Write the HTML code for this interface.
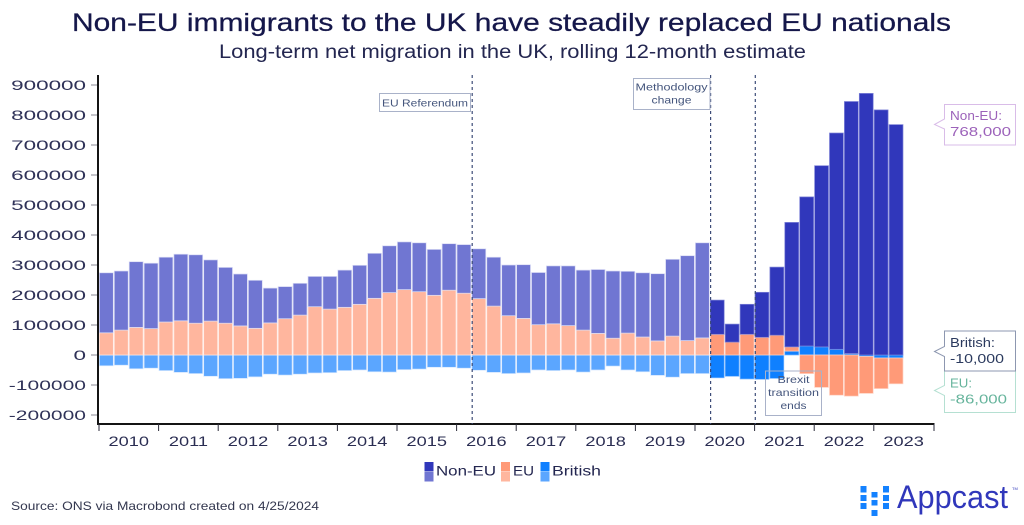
<!DOCTYPE html>
<html>
<head>
<meta charset="utf-8">
<style>
html,body{margin:0;padding:0;background:#fff;width:1024px;height:525px;overflow:hidden}
svg{display:block}
text{font-family:"Liberation Sans",sans-serif}
</style>
</head>
<body>
<svg id="chart" width="1024" height="525" viewBox="0 0 1024 525" xmlns="http://www.w3.org/2000/svg">
<text x="72" y="31" font-size="25" fill="#15174a" stroke="#15174a" stroke-width="0.25" textLength="879" lengthAdjust="spacingAndGlyphs">Non-EU immigrants to the UK have steadily replaced EU nationals</text>
<text x="219" y="58" font-size="19" fill="#232650" textLength="587" lengthAdjust="spacingAndGlyphs">Long-term net migration in the UK, rolling 12-month estimate</text>
<g id="marks"></g>
<g id="yaxis"></g>
<g id="xaxis"></g>
<g id="events"></g>

<g>
<rect x="379.5" y="93.5" width="91" height="18" fill="none" stroke="#a9b2c9" stroke-width="1"/>
<text x="382" y="106.5" font-size="10.5" fill="#44557c" textLength="86" lengthAdjust="spacingAndGlyphs">EU Referendum</text>
</g>
<g>
<rect x="633.5" y="78.5" width="76.5" height="31" fill="none" stroke="#a9b2c9" stroke-width="1"/>
<text x="671.5" y="90.5" font-size="10.5" fill="#44557c" text-anchor="middle" textLength="72" lengthAdjust="spacingAndGlyphs">Methodology</text>
<text x="671.5" y="103.5" font-size="10.5" fill="#44557c" text-anchor="middle" textLength="40" lengthAdjust="spacingAndGlyphs">change</text>
</g>
<g>
<rect x="765.5" y="371" width="56" height="44.5" fill="none" stroke="#a9b2c9" stroke-width="1"/>
<text x="793.5" y="383" font-size="10.5" fill="#44557c" text-anchor="middle" textLength="32" lengthAdjust="spacingAndGlyphs">Brexit</text>
<text x="793.5" y="396" font-size="10.5" fill="#44557c" text-anchor="middle" textLength="51" lengthAdjust="spacingAndGlyphs">transition</text>
<text x="793.5" y="409" font-size="10.5" fill="#44557c" text-anchor="middle" textLength="26" lengthAdjust="spacingAndGlyphs">ends</text>
</g>

<g>
<path d="M944.5 104.5H1015.5V145H944.5V129L934.5 124.5L944.5 119Z" fill="#fff" stroke="#d9bce8" stroke-width="1"/>
<text x="950" y="120" font-size="13" fill="#9c62ba" textLength="52" lengthAdjust="spacingAndGlyphs">Non-EU:</text>
<text x="950" y="136" font-size="13" fill="#9c62ba" textLength="61" lengthAdjust="spacingAndGlyphs">768,000</text>
</g>
<g>
<path d="M944.5 371H1015.5V412.5H944.5V395.5L934.5 390.5L944.5 385.5Z" fill="#fff" stroke="#b5e0d2" stroke-width="1"/>
<text x="950" y="387.5" font-size="13" fill="#66b49c" textLength="22" lengthAdjust="spacingAndGlyphs">EU:</text>
<text x="950" y="403.5" font-size="13" fill="#66b49c" textLength="57" lengthAdjust="spacingAndGlyphs">-86,000</text>
</g>
<g>
<path d="M944.5 331H1015.5V371H944.5V356.5L934.5 351.5L944.5 346.5Z" fill="#fff" stroke="#8d97b0" stroke-width="1"/>
<text x="950" y="347" font-size="13" fill="#2b3a5e" textLength="45" lengthAdjust="spacingAndGlyphs">British:</text>
<text x="950" y="363" font-size="13" fill="#2b3a5e" textLength="54" lengthAdjust="spacingAndGlyphs">-10,000</text>
</g>

<g>
<g>
<rect x="424.5" y="462" width="9" height="9.5" fill="#3037bb"/><rect x="424.5" y="472" width="9" height="9.5" fill="#7076d2"/>
<text x="436" y="475.5" font-size="14" fill="#232650" textLength="60" lengthAdjust="spacingAndGlyphs">Non-EU</text>
</g>
<g>
<rect x="501" y="462" width="9" height="9.5" fill="#ff9a78"/><rect x="501" y="472" width="9" height="9.5" fill="#ffb69e"/>
<text x="513" y="475.5" font-size="14" fill="#232650" textLength="21" lengthAdjust="spacingAndGlyphs">EU</text>
</g>
<g>
<rect x="540.5" y="462" width="9" height="9.5" fill="#0f80ff"/><rect x="540.5" y="472" width="9" height="9.5" fill="#5ba6ff"/>
<text x="552" y="475.5" font-size="14" fill="#232650" textLength="49" lengthAdjust="spacingAndGlyphs">British</text>
</g>
</g>

<text x="11" y="510" font-size="12" fill="#33374f" textLength="308" lengthAdjust="spacingAndGlyphs">Source: ONS via Macrobond created on 4/25/2024</text>

<g fill="#1482ff">
<rect x="860.5" y="486" width="6" height="6.5"/><rect x="860.5" y="495" width="6" height="6"/><rect x="860.5" y="503" width="6" height="6"/>
<rect x="871.5" y="492" width="6" height="5.5"/><rect x="871.5" y="500" width="6" height="5.5"/><rect x="871.5" y="510" width="6" height="6"/>
<rect x="883" y="486" width="6" height="6.5"/><rect x="883" y="495" width="6" height="6"/><rect x="883" y="503" width="6" height="6"/>
<text x="897" y="508" font-size="32" fill="#3037bb" textLength="111" lengthAdjust="spacingAndGlyphs">Appcast</text>
<text x="1012" y="490" font-size="4" fill="#3037bb">TM</text>
</g>
</svg>

<script>
// Values in thousands of people, one entry per quarter from 2010 Q1 to 2023 Q2
const nonEU = [200,197,219,218,216,222,228,204,186,173,160,116,107,106,101,109,124,130,150,156,159,163,153,155,162,166,163,169,179,174,193,199,200,213,224,206,214,224,256,283,317,114,60,100,150,227,415,497,604,721,840,872,817,768];
const eu = [74,83,92,88,110,114,106,113,106,97,89,107,121,133,161,153,159,169,189,208,218,211,199,216,206,188,163,131,122,101,104,98,83,72,56,73,60,47,63,48,57,69,43,69,59,66,14,-62,-108,-134,-137,-123,-102,-86];
const british = [-36,-34,-46,-44,-52,-58,-62,-71,-79,-78,-73,-64,-67,-64,-60,-59,-52,-50,-56,-57,-49,-47,-41,-41,-44,-51,-58,-62,-60,-50,-52,-50,-57,-50,-37,-50,-56,-68,-74,-62,-62,-76,-71,-80,-81,-78,13,30,27,19,5,-5,-10,-10];
const yTicks = [900000,800000,700000,600000,500000,400000,300000,200000,100000,0,-100000,-200000];
const years = ["2010","2011","2012","2013","2014","2015","2016","2017","2018","2019","2020","2021","2022","2023"];
const methodologyChangeIndex = 41;
const eventQuarters = [25, 41, 44];

const NS = 'http://www.w3.org/2000/svg';
const x0 = 99, step = 14.9;
function xScale(q){ return x0 + q * step; }
function yScale(k){ return 355 - k * 0.3; }

function make(tag, attrs, parent){
  const el = document.createElementNS(NS, tag);
  for (const k in attrs) el.setAttribute(k, attrs[k]);
  parent.appendChild(el);
  return el;
}

const marks = document.getElementById('marks');
const series = [
  {key:'british', vals:british, light:'#5ba6ff', dark:'#0f80ff', sl:'#d5e7ff', sd:'#7cb8ff'},
  {key:'eu', vals:eu, light:'#ffb69e', dark:'#ff9a78', sl:'#ffeae3', sd:'#ffd4c5'},
  {key:'non-eu', vals:nonEU, light:'#7076d2', dark:'#3037bb', sl:'#dadcf5', sd:'#7f84d8'}
];
for (let i = 0; i < nonEU.length; i++) {
  let pos = 0, neg = 0;
  series.forEach(function(s){
    const v = s.vals[i];
    let top, bottom;
    if (v >= 0) { top = pos + v; bottom = pos; pos = top; }
    else { top = neg; bottom = neg + v; neg = bottom; }
    const dark = i >= methodologyChangeIndex;
    const r = make('rect', {
      x: xScale(i) + 0.4,
      y: yScale(top),
      width: step - 1,
      height: Math.max(0.1, yScale(bottom) - yScale(top)),
      fill: dark ? s.dark : s.light,
      stroke: dark ? s.sd : s.sl,
      'stroke-width': 0.7
    }, marks);
    
    
  });
}

const yaxis = document.getElementById('yaxis');
const yLine = make('line', {x1:98, x2:98, y1:75, y2:425, stroke:'#141414', 'stroke-width':2}, yaxis);


yTicks.forEach(function(t){
  const y = yScale(t / 1000);
  const tick = make('line', {x1:91, x2:97, y1:y, y2:y, stroke:'#8a8a94', 'stroke-width':1}, yaxis);
  
  
  const label = make('text', {x:86, y:y + 5, 'font-size':14, fill:'#2f3258', 'text-anchor':'end'}, yaxis);
  label.textContent = String(t);
  
  
  label.setAttribute('textLength', (label.getComputedTextLength() * 1.6 - (t < 0 ? 5 : 0)).toFixed(1));
  label.setAttribute('lengthAdjust', 'spacingAndGlyphs');
});

const xaxis = document.getElementById('xaxis');
const xLine = make('line', {x1:97, x2:934.5, y1:424, y2:424, stroke:'#141414', 'stroke-width':2}, xaxis);


years.forEach(function(label, i){
  const tx = xScale(i * 4);
  const tick = make('line', {x1:tx, x2:tx, y1:424, y2:431, stroke:'#2a2a38', 'stroke-width':1}, xaxis);
  
  
  const t = make('text', {x:xScale(i * 4 + 2), y:446, 'font-size':14, fill:'#2a2d52', 'text-anchor':'middle'}, xaxis);
  t.textContent = label;
  
  
  t.setAttribute('textLength', (t.getComputedTextLength() * 1.3).toFixed(1));
  t.setAttribute('lengthAdjust', 'spacingAndGlyphs');
});
const endTick = make('line', {x1:934, x2:934, y1:424, y2:431, stroke:'#2a2a38', 'stroke-width':1}, xaxis);



const events = document.getElementById('events');
eventQuarters.forEach(function(q){
  const x = xScale(q) + 0.7;
  const l = make('line', {x1:x, x2:x, y1:75, y2:424, stroke:'#3d4c78', 'stroke-width':1.2, 'stroke-dasharray':'3 3'}, events);
  
  
});
</script>
</body>
</html>
